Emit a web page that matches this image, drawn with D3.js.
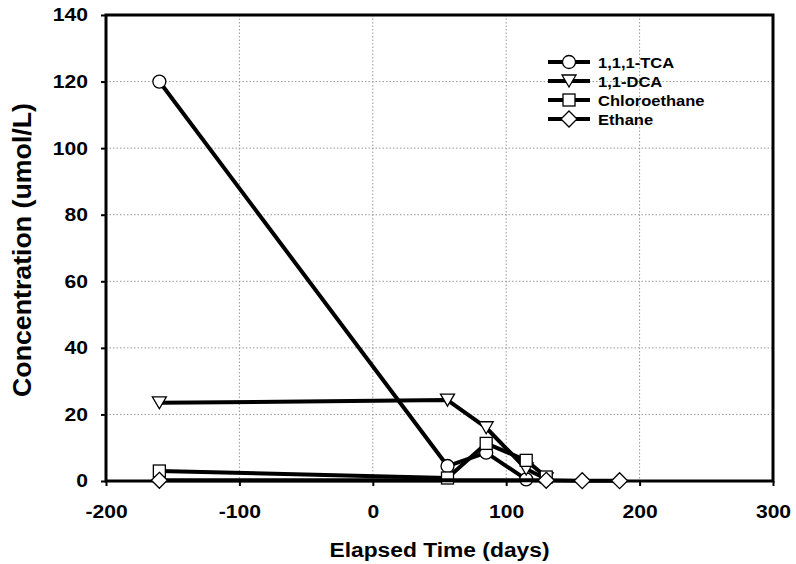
<!DOCTYPE html>
<html>
<head>
<meta charset="utf-8">
<script src="https://d3js.org/d3.v7.min.js"></script>
<style>
  body { margin: 0; background: #fff; }
  text { font-family: "Liberation Sans", Arial, sans-serif; font-weight: bold; fill: #000; }
  .grid line { stroke: #999; stroke-dasharray: 1.5 2; stroke-width: 1; }
</style>
</head>
<body>
<svg width="796" height="564"></svg>
<script>
var days = [-160, 56, 85, 115, 130, 157, 185];
// null = no sample for that day
var tca = [120, 4.5, 8.5, 0.5, null, null, null];
var dca = [23.5, 24.3, 16, 3.6, 0.6, null, null];
var chloroethane = [3, 0.9, 11.3, 6.2, 1.2, null, null];
var ethane = [0.2, null, null, null, 0.2, 0.1, 0.1];
var seriesNames = ["1,1,1-TCA", "1,1-DCA", "Chloroethane", "Ethane"];
var seriesShapes = ["circle", "triangle", "square", "diamond"];
var xTicks = [-200, -100, 0, 100, 200, 300];
var yTicks = [0, 20, 40, 60, 80, 100, 120, 140];

var svg = d3.select("svg");
var mLeft = 106, mRight = 773, mTop = 15, mBottom = 481;
var stretch = 1.14; // text in the scan is a bit wide

var x = d3.scaleLinear().domain([-200, 300]).range([mLeft, mRight]);
var y = d3.scaleLinear().domain([0, 140]).range([mBottom, mTop]);

function widen(sel, k) {
  sel.each(function() {
    var len = this.getComputedTextLength();
    d3.select(this).attr("textLength", len * k).attr("lengthAdjust", "spacingAndGlyphs");
  });
}

// grid
var grid = svg.append("g").attr("class", "grid");
grid.selectAll(".v").data(xTicks.slice(1, -1)).enter().append("line")
  .attr("x1", d => x(d)).attr("x2", d => x(d)).attr("y1", mTop).attr("y2", mBottom);
grid.selectAll(".h").data(yTicks.slice(1, -1)).enter().append("line")
  .attr("x1", mLeft).attr("x2", mRight).attr("y1", d => y(d)).attr("y2", d => y(d));

// axes
var fmt = d => String(d);
var xAxis = svg.append("g").attr("transform", "translate(0," + mBottom + ")")
  .call(d3.axisBottom(x).tickValues(xTicks).tickFormat(fmt).tickSize(5).tickPadding(19));
var yAxis = svg.append("g").attr("transform", "translate(" + mLeft + ",0)")
  .call(d3.axisLeft(y).tickValues(yTicks).tickFormat(fmt).tickSize(5).tickPadding(13));
[xAxis, yAxis].forEach(function(a) {
  a.select(".domain").remove();
  a.selectAll(".tick line").attr("stroke", "#000").attr("stroke-width", 2);
  a.selectAll(".tick text").style("font-size", "18.5px").style("font-family", "'Liberation Sans', Arial, sans-serif").style("font-weight", "bold");
  widen(a.selectAll(".tick text"), stretch);
});

// frame
svg.append("rect").attr("x", mLeft).attr("y", mTop)
  .attr("width", mRight - mLeft).attr("height", mBottom - mTop)
  .attr("fill", "none").attr("stroke", "#000").attr("stroke-width", 3);

function marker(sel, shape) {
  if (shape === "circle") {
    sel.append("circle").attr("r", 6.5);
  } else if (shape === "triangle") {
    sel.append("path").attr("d", "M-7,-6L7,-6L0,6Z");
  } else if (shape === "square") {
    sel.append("rect").attr("x", -6).attr("y", -6).attr("width", 12).attr("height", 12);
  } else {
    sel.append("path").attr("d", "M0,-8L8,0L0,8L-8,0Z");
  }
  sel.selectAll("*").attr("fill", "#fff").attr("stroke", "#000").attr("stroke-width", 1.3);
}

var allSeries = [tca, dca, chloroethane, ethane];
var line = d3.line().x(d => x(d[0])).y(d => y(d[1]));
var plot = svg.append("g");
allSeries.forEach(function(vals, i) {
  var pts = days.map((d, j) => [d, vals[j]]).filter(p => p[1] != null);
  plot.append("path").datum(pts).attr("d", line)
    .attr("fill", "none").attr("stroke", "#000").attr("stroke-width", 4).attr("stroke-linejoin", "round");
  pts.forEach(function(p) {
    var g = plot.append("g").attr("transform", "translate(" + x(p[0]) + "," + y(p[1]) + ")");
    marker(g, seriesShapes[i]);
  });
});

// legend
var legend = svg.append("g");
seriesNames.forEach(function(name, i) {
  var ly = 62 + i * 19;
  legend.append("line").attr("x1", 548).attr("x2", 590).attr("y1", ly).attr("y2", ly)
    .attr("stroke", "#000").attr("stroke-width", 4);
  var g = legend.append("g").attr("transform", "translate(569," + ly + ")");
  marker(g, seriesShapes[i]);
  var t = legend.append("text").attr("x", 598).attr("y", ly + 5.5).style("font-size", "14.5px").text(name);
  widen(t, stretch);
});

// titles
var xt = svg.append("text").attr("x", x(50)).attr("y", 557).attr("text-anchor", "middle")
  .style("font-size", "20px").text("Elapsed Time (days)");
widen(xt, stretch);
var yt = svg.append("text").attr("transform", "translate(31," + ((mTop + mBottom) / 2 + 2) + ") rotate(-90)")
  .attr("text-anchor", "middle").style("font-size", "26px").text("Concentration (umol/L)");
yt.attr("textLength", 294).attr("lengthAdjust", "spacingAndGlyphs");
</script>
</body>
</html>
